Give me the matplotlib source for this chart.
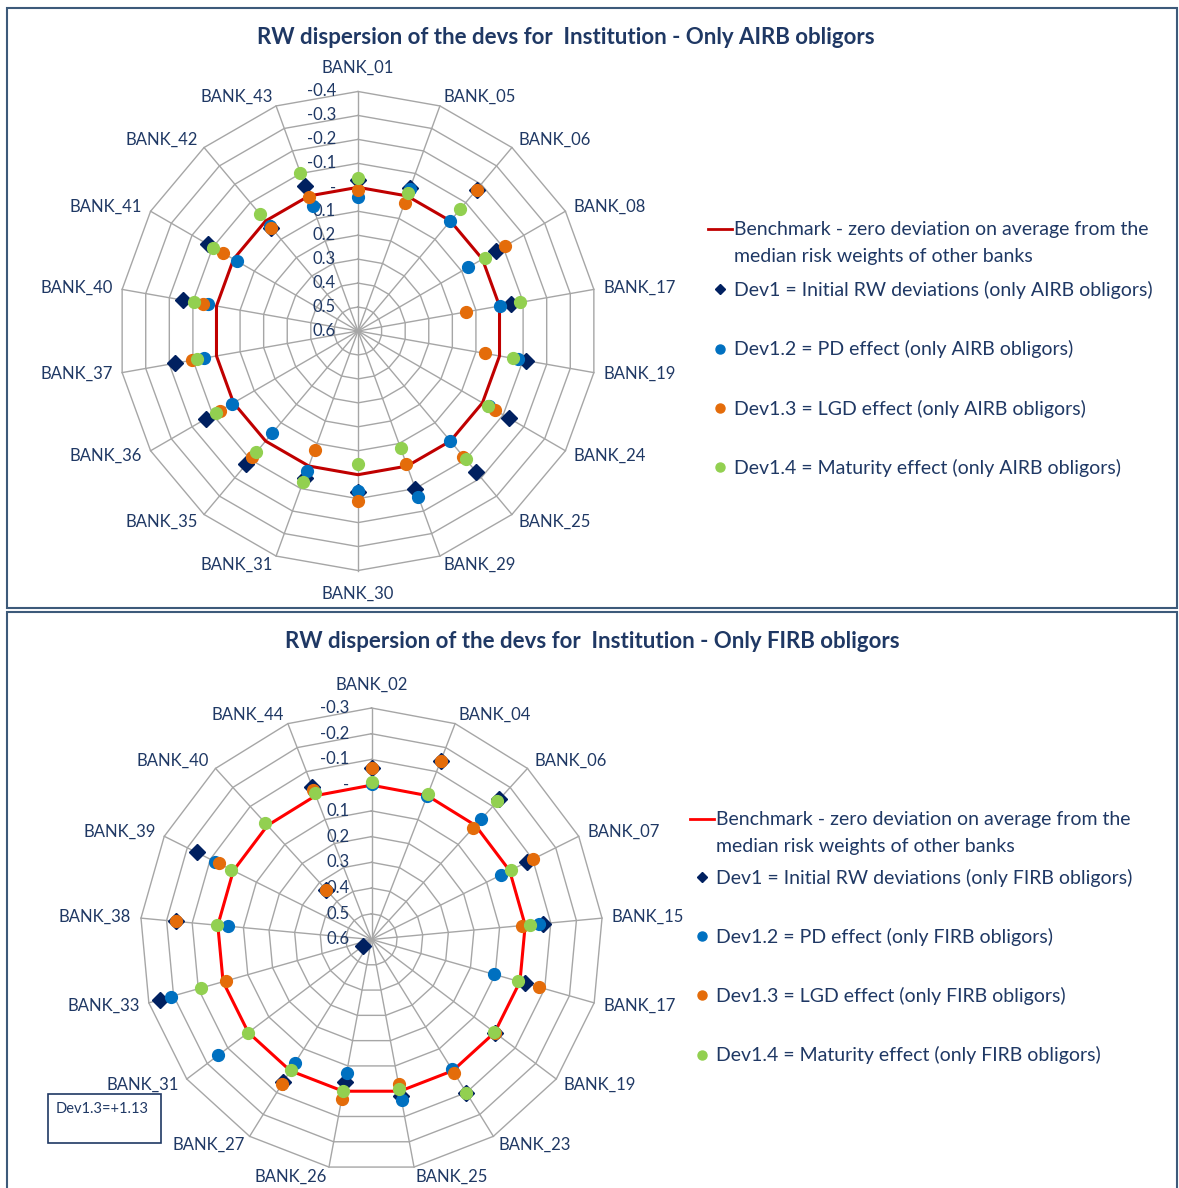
import numpy as np
import matplotlib
matplotlib.use("Agg")
import matplotlib.pyplot as plt
from matplotlib.lines import Line2D
from matplotlib.patches import Rectangle

plt.rcParams['font.family'] = ['Lato', 'DejaVu Sans']

# ---------------- Top chart: AIRB obligors ----------------
airb_banks = ['BANK_01', 'BANK_05', 'BANK_06', 'BANK_08', 'BANK_17', 'BANK_19',
              'BANK_24', 'BANK_25', 'BANK_29', 'BANK_30', 'BANK_31', 'BANK_35',
              'BANK_36', 'BANK_37', 'BANK_40', 'BANK_41', 'BANK_42', 'BANK_43']
airb_dev1 = [-0.03, -0.034, -0.17, -0.067, -0.05, -0.111, -0.129, -0.167, -0.10,
             -0.072, -0.053, -0.127, -0.134, -0.174, -0.142, -0.125, 0.036, -0.045]
airb_pd = [0.04, -0.03, 0.0, 0.068, -0.002, -0.078, -0.03, 0.003, -0.137,
           -0.07, -0.024, 0.042, -0.008, -0.053, -0.038, 0.016, 0.03, 0.045]
airb_lgd = [0.01, 0.03, -0.17, -0.107, 0.143, 0.063, -0.061, -0.085, 0.011,
            -0.108, 0.072, -0.088, -0.066, -0.103, -0.057, -0.052, 0.036, 0.003]
airb_mat = [-0.04, -0.015, -0.064, -0.01, -0.088, -0.056, -0.028, -0.10, 0.078,
            0.045, -0.069, -0.06, -0.086, -0.083, -0.097, -0.097, -0.036, -0.103]
airb_benchmark = [0.0] * len(airb_banks)
airb_ticks = [-0.4, -0.3, -0.2, -0.1, 0.0, 0.1, 0.2, 0.3, 0.4, 0.5, 0.6]
airb_ticklabels = ['-0.4', '-0.3', '-0.2', '-0.1', '-', '0.1', '0.2', '0.3', '0.4', '0.5', '0.6']
airb_title = 'RW dispersion of the devs for  Institution - Only AIRB obligors'
airb_legend = ['Benchmark - zero deviation on average from the',
               'median risk weights of other banks',
               'Dev1 = Initial RW deviations (only AIRB obligors)',
               'Dev1.2 = PD effect (only AIRB obligors)',
               'Dev1.3 = LGD effect (only AIRB obligors)',
               'Dev1.4 = Maturity effect (only AIRB obligors)']

# ---------------- Bottom chart: FIRB obligors ----------------
firb_banks = ['BANK_02', 'BANK_04', 'BANK_06', 'BANK_07', 'BANK_15', 'BANK_17',
              'BANK_19', 'BANK_23', 'BANK_25', 'BANK_26', 'BANK_27', 'BANK_31',
              'BANK_33', 'BANK_38', 'BANK_39', 'BANK_40', 'BANK_44']
firb_dev1 = [-0.066, -0.143, -0.137, -0.074, -0.07, -0.022, 0.0, -0.10, -0.02,
             0.035, -0.052, 0.56, -0.253, -0.163, -0.159, 0.34, -0.036]
firb_pd = [-0.005, 0.002, -0.033, 0.039, -0.055, 0.106, 0.0, 0.009, -0.036,
           0.073, 0.034, -0.146, -0.21, 0.038, -0.079, 0.34, -0.02]
firb_lgd = [-0.066, -0.143, 0.015, -0.102, 0.012, -0.077, 0.0, -0.01, 0.028,
            -0.029, -0.061, 1.13, 0.013, -0.163, -0.063, 0.34, -0.025]
firb_mat = [-0.011, -0.007, -0.127, -0.004, -0.018, 0.009, 0.005, -0.10, 0.009,
            0.0, 0.005, 0.0, -0.088, -0.005, -0.01, -0.012, -0.01]
firb_benchmark = [0.0] * len(firb_banks)
firb_ticks = [-0.3, -0.2, -0.1, 0.0, 0.1, 0.2, 0.3, 0.4, 0.5, 0.6]
firb_ticklabels = ['-0.3', '-0.2', '-0.1', '-', '0.1', '0.2', '0.3', '0.4', '0.5', '0.6']
firb_title = 'RW dispersion of the devs for  Institution - Only FIRB obligors'
firb_legend = ['Benchmark - zero deviation on average from the',
               'median risk weights of other banks',
               'Dev1 = Initial RW deviations (only FIRB obligors)',
               'Dev1.2 = PD effect (only FIRB obligors)',
               'Dev1.3 = LGD effect (only FIRB obligors)',
               'Dev1.4 = Maturity effect (only FIRB obligors)']
firb_note = 'Dev1.3=+1.13'

# ---------------- styling ----------------
W, H = 1179, 1188
NAVY_TXT = '#1f3864'
GRID = '#a6a6a6'
C_DEV1 = '#002060'
C_PD = '#0070c0'
C_LGD = '#e46c0a'
C_MAT = '#92d050'
FRAME = '#3d5a7a'

fig = plt.figure(figsize=(W / 100, H / 100), dpi=100)


def fx(px):
    return px / W


def fy(py):
    return 1 - py / H


def radar(cx, cy, R, banks, dev1, pd_, lgd, mat, bench, ticks, ticklabels,
          bench_color):
    rect = [fx(cx - R), fy(cy + R), 2 * R / W, 2 * R / H]
    ax = fig.add_axes(rect, projection='polar')
    ax.set_theta_zero_location('N')
    ax.set_theta_direction(-1)
    inner, outer = ticks[-1], ticks[0]
    ax.set_ylim(inner, outer)
    ax.set_xticks([])
    ax.set_yticks([])
    ax.grid(False)
    ax.spines['polar'].set_visible(False)
    ax.patch.set_visible(False)

    n = len(banks)
    theta = np.arange(n) * 2 * np.pi / n
    theta_c = np.append(theta, theta[0])

    # polygon grid
    for t in ticks:
        ax.plot(theta_c, [t] * (n + 1), color=GRID, lw=1.0, zorder=1, clip_on=False)
    for th in theta:
        ax.plot([th, th], [inner, outer], color=GRID, lw=1.0, zorder=1, clip_on=False)

    # radial tick labels along the top spoke
    for t, lab in zip(ticks, ticklabels):
        ax.annotate(lab, xy=(0, t), xytext=(-16, 0), textcoords='offset points',
                    ha='right', va='center', fontsize=12, color=NAVY_TXT, zorder=2)

    # category labels
    for th, lab in zip(theta, banks):
        s, c = np.sin(th), np.cos(th)
        if abs(s) < 0.05:
            ha = 'center'
            va = 'bottom' if c > 0 else 'top'
            off = 11
        else:
            ha = 'left' if s > 0 else 'right'
            va = 'center'
            off = 7
        ax.annotate(lab, xy=(th, outer), xytext=(off * s, off * c),
                    textcoords='offset points', ha=ha, va=va, fontsize=12,
                    color=NAVY_TXT, annotation_clip=False)

    def vis(v):
        v = np.asarray(v, dtype=float)
        return np.where((v > inner) | (v < outer), np.nan, v)

    ax.plot(theta_c, np.append(bench, bench[0]), color=bench_color, lw=2.2, zorder=3)
    ax.plot(theta, vis(dev1), ls='none', marker='D', ms=8.5, color=C_DEV1, zorder=4,
            clip_on=False)
    ax.plot(theta, vis(pd_), ls='none', marker='o', ms=8.5, color=C_PD, zorder=5,
            clip_on=False)
    ax.plot(theta, vis(lgd), ls='none', marker='o', ms=8.5, color=C_LGD, zorder=6,
            clip_on=False)
    ax.plot(theta, vis(mat), ls='none', marker='o', ms=8.5, color=C_MAT, zorder=7,
            clip_on=False)
    return ax


def legends(labels, bench_color, x_handle, y_a, y_b):
    hb = Line2D([], [], color=bench_color, lw=2)
    hblank = Line2D([], [], ls='none')
    hd = Line2D([], [], ls='none', marker='D', ms=5, color=C_DEV1)
    hp = Line2D([], [], ls='none', marker='o', ms=6.5, color=C_PD)
    hl = Line2D([], [], ls='none', marker='o', ms=6.5, color=C_LGD)
    hm = Line2D([], [], ls='none', marker='o', ms=6.5, color=C_MAT)
    common = dict(frameon=False, borderpad=0, borderaxespad=0, handlelength=1.25,
                  handletextpad=0.1, fontsize=14, labelcolor=NAVY_TXT,
                  loc='center left')
    fig.legend([hb, hblank], labels[:2], bbox_to_anchor=(fx(x_handle), fy(y_a)),
               labelspacing=0.48, **common)
    fig.legend([hd, hp, hl, hm], labels[2:], bbox_to_anchor=(fx(x_handle), fy(y_b)),
               labelspacing=2.12, **common)


# panel frames
fig.add_artist(Rectangle((fx(7), fy(608)), fx(1177) - fx(7), fy(8) - fy(608),
                         transform=fig.transFigure, fill=False, edgecolor=FRAME, lw=1.5))
fig.add_artist(Rectangle((fx(7), fy(1190)), fx(1177) - fx(7), fy(612) - fy(1190),
                         transform=fig.transFigure, fill=False, edgecolor=FRAME, lw=1.5))

# top chart
radar(358, 331, 239.5, airb_banks, airb_dev1, airb_pd, airb_lgd, airb_mat,
      airb_benchmark, airb_ticks, airb_ticklabels, '#c00000')
fig.text(fx(566), fy(38), airb_title, ha='center', va='center', fontsize=16,
         fontweight='bold', color=NAVY_TXT)
legends(airb_legend, '#c00000', 708, 243, 379)

# bottom chart
radar(371.5, 939.5, 231.5, firb_banks, firb_dev1, firb_pd, firb_lgd, firb_mat,
      firb_benchmark, firb_ticks, firb_ticklabels, '#ff0000')
fig.text(fx(592), fy(641), firb_title, ha='center', va='center', fontsize=16,
         fontweight='bold', color=NAVY_TXT)
legends(firb_legend, '#ff0000', 690, 833, 966.5)

# note box
fig.add_artist(Rectangle((fx(48), fy(1143)), fx(161) - fx(48), fy(1094) - fy(1143),
                         transform=fig.transFigure, fill=False, edgecolor=NAVY_TXT, lw=1.2))
fig.text(fx(56), fy(1109), firb_note, ha='left', va='center', fontsize=10.5, color=NAVY_TXT)

fig.savefig('out.png', dpi=100)
